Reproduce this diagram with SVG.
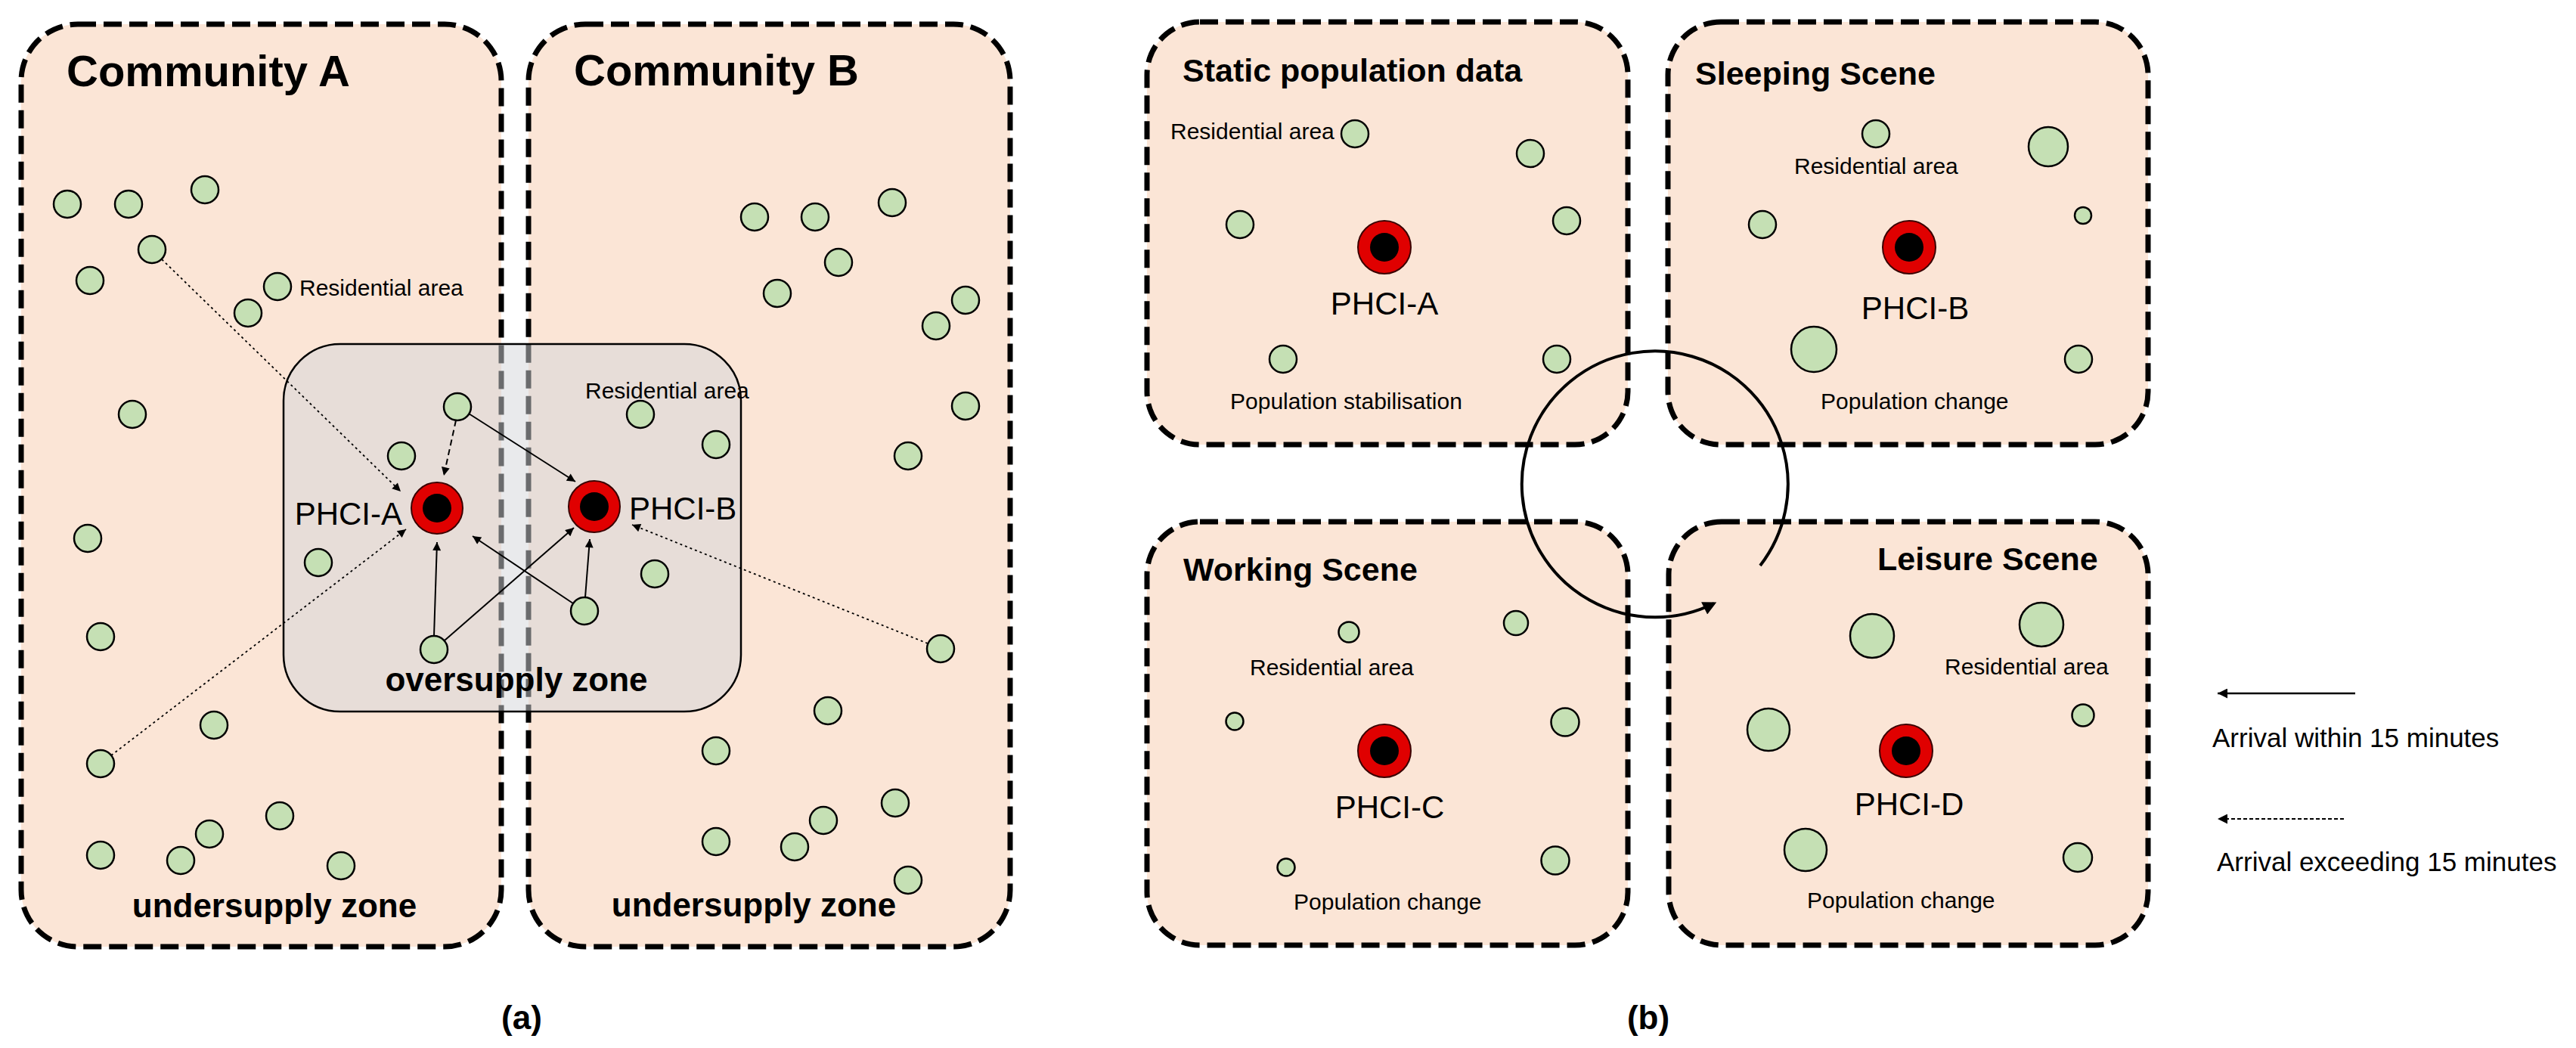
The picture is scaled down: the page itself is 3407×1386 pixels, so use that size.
<svg xmlns="http://www.w3.org/2000/svg" width="3407" height="1386" viewBox="0 0 3407 1386">
<style>
.box{fill:#FBE5D6;stroke:#000;stroke-width:7;stroke-dasharray:24 10}
.zone{fill:#D3D5DA;fill-opacity:0.5;stroke:#000;stroke-width:2.5}
.res{fill:#C5E0B4;stroke:#000;stroke-width:2.5}
.ring{fill:#E00000;stroke:#3A0000;stroke-width:2}
.core{fill:#000}
text{font-family:"Liberation Sans",Arial,sans-serif;fill:#000}
.ttl{font-size:58px;font-weight:bold}
.ttl2{font-size:43px;font-weight:bold}
.zn{font-size:44px;font-weight:bold}
.ph{font-size:42px}
.sm{font-size:30px}
.lg{font-size:35px}
.cap{font-size:44px;font-weight:bold}
.solid{stroke:#000;stroke-width:2;fill:none}
.dashd{stroke:#000;stroke-width:2;fill:none;stroke-dasharray:8 5}
.dot{stroke:#000;stroke-width:1.8;fill:none;stroke-dasharray:3 4}
</style>
<defs>
<marker id="ah" viewBox="0 0 10 10" refX="10" refY="5" markerWidth="13" markerHeight="11" markerUnits="userSpaceOnUse" orient="auto"><path d="M0,0 L10,5 L0,10 z" fill="#000"/></marker>
<marker id="ahL" viewBox="0 0 10 10" refX="10" refY="5" markerWidth="18" markerHeight="13" markerUnits="userSpaceOnUse" orient="auto"><path d="M0,0 L10,5 L0,10 z" fill="#000"/></marker>
<marker id="ahC" viewBox="0 0 10 10" refX="8" refY="5" markerWidth="26" markerHeight="18" markerUnits="userSpaceOnUse" orient="auto"><path d="M0,0 L10,5 L0,10 z" fill="#000"/></marker>
</defs>

<!-- Panel (a) -->
<g id="community-a"><rect class="box" x="28" y="32" width="635" height="1220" rx="75"/><text class="ttl" x="88" y="114">Community A</text><text class="zn" x="363" y="1213" text-anchor="middle">undersupply zone</text></g>
<g id="community-b"><rect class="box" x="699" y="32" width="637" height="1220" rx="75"/><text class="ttl" x="759" y="113">Community B</text><text class="zn" x="997" y="1212" text-anchor="middle">undersupply zone</text></g>
<g id="oversupply-zone"><rect class="zone" x="375" y="455" width="605" height="486" rx="75"/><text class="zn" x="683" y="914" text-anchor="middle">oversupply zone</text></g>

<g id="residential-a">
<g id="ra1"><circle class="res" cx="89" cy="270" r="18"/></g>
<g id="ra2"><circle class="res" cx="170" cy="270" r="18"/></g>
<g id="ra3"><circle class="res" cx="271" cy="251" r="18"/></g>
<g id="ra4"><circle class="res" cx="201" cy="330" r="18"/></g>
<g id="ra5"><circle class="res" cx="119" cy="371" r="18"/></g>
<g id="ra6"><circle class="res" cx="367" cy="379" r="18"/><text class="sm" x="396" y="391">Residential area</text></g>
<g id="ra7"><circle class="res" cx="328" cy="414" r="18"/></g>
<g id="ra8"><circle class="res" cx="175" cy="548" r="18"/></g>
<g id="ra9"><circle class="res" cx="116" cy="712" r="18"/></g>
<g id="ra10"><circle class="res" cx="133" cy="842" r="18"/></g>
<g id="ra11"><circle class="res" cx="283" cy="959" r="18"/></g>
<g id="ra12"><circle class="res" cx="133" cy="1010" r="18"/></g>
<g id="ra13"><circle class="res" cx="370" cy="1079" r="18"/></g>
<g id="ra14"><circle class="res" cx="277" cy="1103" r="18"/></g>
<g id="ra15"><circle class="res" cx="133" cy="1131" r="18"/></g>
<g id="ra16"><circle class="res" cx="239" cy="1138" r="18"/></g>
<g id="ra17"><circle class="res" cx="451" cy="1145" r="18"/></g>
<g id="ra18"><circle class="res" cx="605" cy="538" r="18"/></g>
<g id="ra19"><circle class="res" cx="531" cy="603" r="18"/></g>
<g id="ra20"><circle class="res" cx="421" cy="744" r="18"/></g>
<g id="ra21"><circle class="res" cx="574" cy="859" r="18"/></g>
</g>
<g id="residential-b">
<g id="rb1"><circle class="res" cx="998" cy="287" r="18"/></g>
<g id="rb2"><circle class="res" cx="1078" cy="287" r="18"/></g>
<g id="rb3"><circle class="res" cx="1180" cy="268" r="18"/></g>
<g id="rb4"><circle class="res" cx="1109" cy="347" r="18"/></g>
<g id="rb5"><circle class="res" cx="1028" cy="388" r="18"/></g>
<g id="rb6"><circle class="res" cx="1277" cy="397" r="18"/></g>
<g id="rb7"><circle class="res" cx="1238" cy="431" r="18"/></g>
<g id="rb8"><circle class="res" cx="1277" cy="537" r="18"/></g>
<g id="rb9"><circle class="res" cx="1201" cy="603" r="18"/></g>
<g id="rb10"><circle class="res" cx="1244" cy="858" r="18"/></g>
<g id="rb11"><circle class="res" cx="1095" cy="940" r="18"/></g>
<g id="rb12"><circle class="res" cx="947" cy="993" r="18"/></g>
<g id="rb13"><circle class="res" cx="1184" cy="1062" r="18"/></g>
<g id="rb14"><circle class="res" cx="1089" cy="1085" r="18"/></g>
<g id="rb15"><circle class="res" cx="947" cy="1113" r="18"/></g>
<g id="rb16"><circle class="res" cx="1051" cy="1120" r="18"/></g>
<g id="rb17"><circle class="res" cx="1201" cy="1164" r="18"/></g>
<g id="rb18"><circle class="res" cx="847" cy="548" r="18"/><text class="sm" x="774" y="527">Residential area</text></g>
<g id="rb19"><circle class="res" cx="947" cy="588" r="18"/></g>
<g id="rb20"><circle class="res" cx="866" cy="759" r="18"/></g>
<g id="rb21"><circle class="res" cx="773" cy="808" r="18"/></g>
</g>
<text class="cap" x="690" y="1361" text-anchor="middle">(a)</text>

<!-- Panel (b) -->
<g id="static-scene"><rect class="box" x="1517" y="29" width="636" height="559" rx="70"/><text class="ttl2" x="1564" y="108">Static population data</text>
<text class="sm" x="1548" y="184">Residential area</text><text class="sm" x="1627" y="541">Population stabilisation</text>
<circle class="res" cx="1792" cy="177" r="18"/><circle class="res" cx="2024" cy="203" r="18"/><circle class="res" cx="1640" cy="297" r="18"/><circle class="res" cx="2072" cy="292" r="18"/><circle class="res" cx="1697" cy="475" r="18"/><circle class="res" cx="2059" cy="475" r="18"/>
<g id="phci-a-static"><circle class="ring" cx="1831" cy="327" r="35"/><circle class="core" cx="1831" cy="327" r="19"/><text class="ph" x="1831" y="416" text-anchor="middle">PHCI-A</text></g>
</g>
<g id="sleeping-scene"><rect class="box" x="2206" y="29" width="635" height="559" rx="70"/><text class="ttl2" x="2242" y="112">Sleeping Scene</text>
<text class="sm" x="2373" y="230">Residential area</text><text class="sm" x="2408" y="541">Population change</text>
<circle class="res" cx="2481" cy="177" r="18"/><circle class="res" cx="2709" cy="194" r="26"/><circle class="res" cx="2331" cy="297" r="18"/><circle class="res" cx="2755" cy="285" r="11"/><circle class="res" cx="2399" cy="462" r="30"/><circle class="res" cx="2749" cy="475" r="18"/>
<g id="phci-b-sleeping"><circle class="ring" cx="2525" cy="327" r="35"/><circle class="core" cx="2525" cy="327" r="19"/><text class="ph" x="2533" y="422" text-anchor="middle">PHCI-B</text></g>
</g>
<g id="working-scene"><rect class="box" x="1517" y="690" width="636" height="560" rx="70"/><text class="ttl2" x="1565" y="768">Working Scene</text>
<text class="sm" x="1653" y="893">Residential area</text><text class="sm" x="1711" y="1203">Population change</text>
<circle class="res" cx="1784" cy="836" r="13.5"/><circle class="res" cx="2005" cy="824" r="16"/><circle class="res" cx="1633" cy="954" r="11.5"/><circle class="res" cx="2070" cy="955" r="18.5"/><circle class="res" cx="1701" cy="1147" r="11.5"/><circle class="res" cx="2057" cy="1138" r="18.5"/>
<g id="phci-c-working"><circle class="ring" cx="1831" cy="993" r="35"/><circle class="core" cx="1831" cy="993" r="19"/><text class="ph" x="1838" y="1082" text-anchor="middle">PHCI-C</text></g>
</g>
<g id="leisure-scene"><rect class="box" x="2207" y="690" width="634" height="560" rx="70"/><text class="ttl2" x="2483" y="754">Leisure Scene</text>
<text class="sm" x="2572" y="892">Residential area</text><text class="sm" x="2390" y="1201">Population change</text>
<circle class="res" cx="2476" cy="841" r="29"/><circle class="res" cx="2700" cy="826" r="29"/><circle class="res" cx="2339" cy="965" r="28"/><circle class="res" cx="2755" cy="946" r="14.5"/><circle class="res" cx="2388" cy="1124" r="28"/><circle class="res" cx="2748" cy="1134" r="19"/>
<g id="phci-d-leisure"><circle class="ring" cx="2521" cy="993" r="35"/><circle class="core" cx="2521" cy="993" r="19"/><text class="ph" x="2525" y="1078" text-anchor="middle">PHCI-D</text></g>
</g>
<text class="cap" x="2180" y="1361" text-anchor="middle">(b)</text>

<g id="connectors">
<line class="dot" x1="214" y1="343" x2="530" y2="650" marker-end="url(#ah)"/>
<line class="dashd" x1="603" y1="556" x2="587" y2="629" marker-end="url(#ah)"/>
<line class="solid" x1="620" y1="547" x2="761" y2="637" marker-end="url(#ah)"/>
<line class="dot" x1="147" y1="999" x2="537" y2="700" marker-end="url(#ah)"/>
<line class="solid" x1="574" y1="841" x2="578" y2="717" marker-end="url(#ah)"/>
<line class="solid" x1="588" y1="847" x2="759" y2="698" marker-end="url(#ah)"/>
<line class="solid" x1="758" y1="798" x2="625" y2="709" marker-end="url(#ah)"/>
<line class="solid" x1="774" y1="790" x2="780" y2="713" marker-end="url(#ah)"/>
<line class="dot" x1="1227" y1="851" x2="836" y2="694" marker-end="url(#ah)"/>
<path d="M 2328 748 A 176 176 0 1 0 2267 798" fill="none" stroke="#000" stroke-width="4" marker-end="url(#ahC)"/>
</g>

<g id="phci-a"><circle class="ring" cx="578" cy="672" r="34"/><circle class="core" cx="578" cy="672" r="19"/><text class="ph" x="532" y="694" text-anchor="end">PHCI-A</text></g>
<g id="phci-b"><circle class="ring" cx="786" cy="670" r="34"/><circle class="core" cx="786" cy="670" r="19"/><text class="ph" x="832" y="687">PHCI-B</text></g>

<g id="legend">
<line x1="3115" y1="917" x2="2933" y2="917" stroke="#000" stroke-width="2.5" marker-end="url(#ahL)"/>
<text class="lg" x="2926" y="988">Arrival within 15 minutes</text>
<line x1="3100" y1="1083" x2="2933" y2="1083" stroke="#000" stroke-width="2" stroke-dasharray="5 3" marker-end="url(#ahL)"/>
<text class="lg" x="2932" y="1152">Arrival exceeding 15 minutes</text>
</g>
</svg>
